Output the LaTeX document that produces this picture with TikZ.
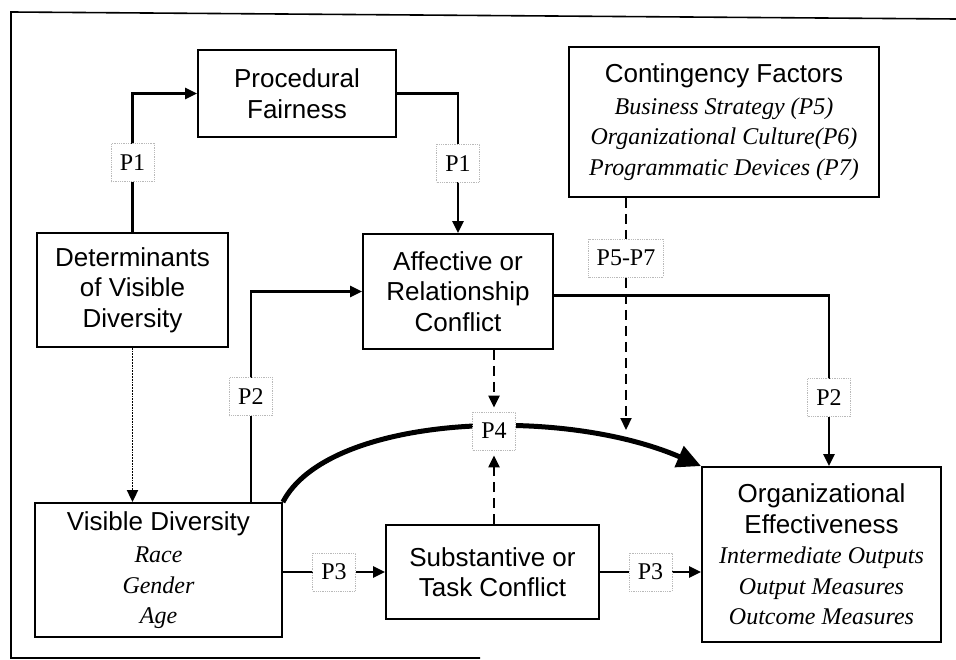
\documentclass[tikz,border=0pt]{standalone}
\usepackage{fontspec}
\setmainfont{Liberation Serif}
\setsansfont{Liberation Sans}
\usetikzlibrary{arrows.meta,calc}
\newcommand{\ttl}{\sffamily\upshape\fontsize{26}{30.5}\selectfont}
\newcommand{\itl}{\rmfamily\itshape\fontsize{24}{29}\selectfont}
\begin{document}
\begin{tikzpicture}[x=1pt,y=-1pt,
  box/.style={draw,line width=1.8pt,inner sep=0pt,align=center,font=\ttl},
  conn/.style={line width=2.3pt},
  tip/.style={-{Triangle[length=12pt,width=11pt]}},
  dsh/.style={line width=2.2pt,dash pattern=on 10pt off 6pt},
  lbl/.style={draw=gray!55,densely dotted,line width=0.8pt,fill=white,
    font=\rmfamily\fontsize{24}{26}\selectfont,minimum width=43pt,minimum height=38pt,inner xsep=8pt,inner ysep=0pt}]
\useasboundingbox (0,0) rectangle (956,660);
% frame
\draw[line width=1.6pt] (956,19) -- (11,12) -- (11,658) -- (480,658);

% boxes
\node[box,minimum width=198pt,minimum height=87pt] (pf) at (297,93.5) {Procedural\\Fairness};
\node[box,minimum width=191pt,minimum height=114pt] (det) at (132.5,290) {Determinants\\of Visible\\Diversity};
\node[box,minimum width=190pt,minimum height=115pt] (aff) at (458,291.5) {Affective or\\Relationship\\Conflict};
\node[box,minimum width=310pt,minimum height=150pt] (cont) at (724,122) {Contingency Factors\\[1pt]
  \itl Business Strategy (P5)\\\itl Organizational Culture(P6)\\\itl Programmatic Devices (P7)};
\node[box,minimum width=247pt,minimum height=134pt] (vd) at (158.5,570) {Visible Diversity\\[2pt]
  \itl Race\\\itl Gender\\\itl Age};
\node[box,minimum width=213pt,minimum height=94pt] (sub) at (492.5,572) {Substantive or\\Task Conflict};
\node[box,minimum width=239pt,minimum height=175pt] (oe) at (821.5,554.5) {Organizational\\Effectiveness\\[0pt]
  \itl Intermediate Outputs\\\itl Output Measures\\\itl Outcome Measures};

% thick curve
\draw[line width=5pt,-{Triangle[length=24pt,width=22pt]}] (vd.north east) .. controls (328,415) and (560,405) .. (oe.north west);

% P1
\draw[conn,tip] (det.north) |- node[lbl,pos=0.25]{P1} (pf.west);
\draw[conn,tip] (pf.east) -| node[lbl,pos=0.75]{P1} (aff.north);
% dotted
\draw[line width=1.8pt,densely dotted,tip] (det.south) -- (det.south |- vd.north);
% P2
\coordinate (vdp) at ($(vd.north east)+(-32,0)$);
\draw[conn,tip] (vdp) |- node[lbl,pos=0.25]{P2} (aff.west);
\coordinate (oep) at ($(oe.north)+(7.5,0)$);
\draw[conn,tip] ([yshift=-4pt]aff.east) -| node[lbl,pos=0.8]{P2} (oep);
% P3
\draw[conn,tip] (vd.east |- sub.west) -- node[lbl]{P3} (sub.west);
\draw[conn,tip] (sub.east) -- node[lbl]{P3} (sub.east -| oe.west);
% P5-P7
\coordinate (c57) at (626,430);
\draw[dsh,tip] (cont.south -| c57) -- (c57);
\node[lbl] (p57) at (626,258) {P5-P7};
% P4
\node[lbl] (p4) at (494,431) {P4};
\draw[dsh,tip] (aff.south -| p4) -- ([yshift=4pt]p4.north);
\draw[dsh,tip] (sub.north -| p4) -- ([yshift=-5pt]p4.south);
\end{tikzpicture}
\end{document}
